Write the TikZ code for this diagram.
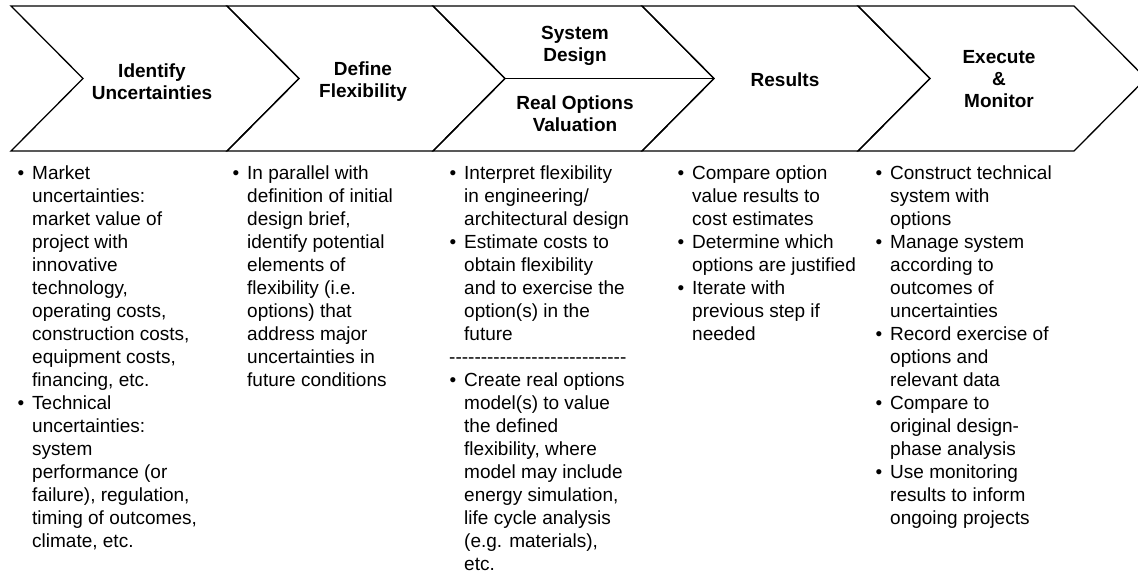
\documentclass[tikz,border=0pt]{standalone}
\usepackage{fontspec}
\newfontfamily\arialfont{Liberation Sans}
\newcommand\bul{\llap{•\hspace{8pt}}}
\begin{document}
\begin{tikzpicture}[x=1pt,y=-1pt,
  edge/.style={line width=1.3pt, line join=miter},
  head/.style={font=\arialfont\bfseries\fontsize{19}{22}\selectfont, align=center, inner sep=0pt},
  body/.style={font=\arialfont\fontsize{19}{23}\selectfont, align=left, anchor=north west, inner sep=0pt}]
\useasboundingbox (0,0) rectangle (1138,575);
\clip (0,0) rectangle (1138,575);
\fill[white] (0,0) rectangle (1138,575);
% chevrons
\draw[edge] (11,6) -- (227,6) -- (299,78.5) -- (227,151) -- (11,151) -- (83,78.5) -- cycle;
\draw[edge] (227,6) -- (433,6) -- (505,78.5) -- (433,151) -- (227,151) -- (299,78.5) -- cycle;
\draw[edge] (433,6) -- (642,6) -- (714,78.5) -- (642,151) -- (433,151) -- (505,78.5) -- cycle;
\draw[edge] (642,6) -- (858,6) -- (930,78.5) -- (858,151) -- (642,151) -- (714,78.5) -- cycle;
\draw[edge] (858,6) -- (1074,6) -- (1146,78.5) -- (1074,151) -- (858,151) -- (930,78.5) -- cycle;
\draw[edge] (505,78.5) -- (714,78.5);
% headings
\node[head] (h1) at (152,82) {Identify\\Uncertainties};
\node[head] (h2) at (363,82) {Define\\Flexibility};
\node[head] (h3a) at (575,46) {System\\Design};
\node[head] (h3b) at (575,114) {Real Options\\Valuation};
\node[head] (h4) at (785,80) {Results};
\node[head] (h5) at (999,79) {Execute\\\&\\Monitor};
% bodies
\node[body] (b1) at (32,163) {\bul\strut Market\\
uncertainties:\\
market value of\\
project with\\
innovative\\
technology,\\
operating costs,\\
construction costs,\\
equipment costs,\\
financing, etc.\\
\bul Technical\\
uncertainties:\\
system\\
performance (or\\
failure), regulation,\\
timing of outcomes,\\
climate, etc.};
\node[body] (b2) at (247,163) {\bul\strut In parallel with\\
definition of initial\\
design brief,\\
identify potential\\
elements of\\
flexibility (i.e.\\
options) that\\
address major\\
uncertainties in\\
future conditions};
\node[body] (b3) at (464,163) {\bul\strut Interpret flexibility\\
in engineering/\\
architectural design\\
\bul Estimate costs to\\
obtain flexibility\\
and to exercise the\\
option(s) in the\\
future\\
\kern-15pt ----------------------------\\
\bul Create real options\\
model(s) to value\\
the defined\\
flexibility, where\\
model may include\\
energy simulation,\\
life cycle analysis\\
(e.g. materials),\\
etc.};
\node[body] (b4) at (692,163) {\bul\strut Compare option\\
value results to\\
cost estimates\\
\bul Determine which\\
options are justified\\
\bul Iterate with\\
previous step if\\
needed};
\node[body] (b5) at (890,163) {\bul\strut Construct technical\\
system with\\
options\\
\bul Manage system\\
according to\\
outcomes of\\
uncertainties\\
\bul Record exercise of\\
options and\\
relevant data\\
\bul Compare to\\
original design-\\
phase analysis\\
\bul Use monitoring\\
results to inform\\
ongoing projects};
\end{tikzpicture}
\end{document}
